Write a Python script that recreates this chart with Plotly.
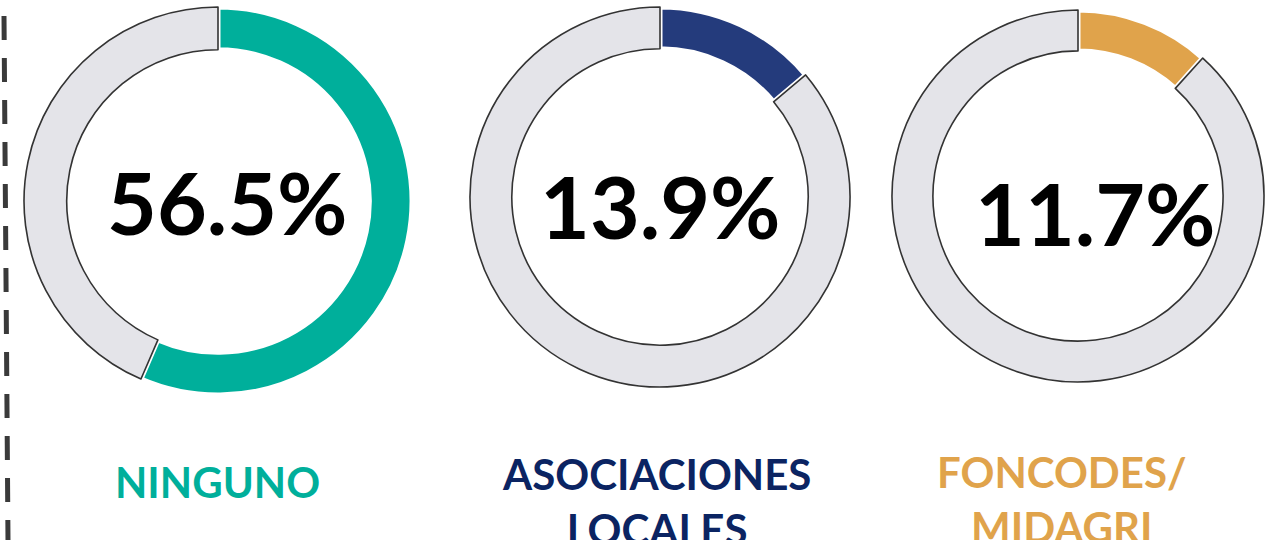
import plotly.graph_objects as go

categories = ["NINGUNO", "ASOCIACIONES<br>LOCALES", "FONCODES/<br>MIDAGRI"]
values = [56.5, 13.9, 11.7]
value_labels = ["56.5%", "13.9%", "11.7%"]
slice_colors = ["#00AF9B", "#243B7C", "#E0A34B"]
label_colors = ["#00AF9B", "#0B2462", "#E0A34B"]

W, H = 1265, 540
# donut centres / radii in pixels (layout only)
centers = [(218, 201), (660, 197), (1078, 196)]
radii = [194, 190, 186]
text_pos = [(227, 201), (660, 205), (1095, 212)]
label_pos = [(217, 480), (656, 472), (1062, 470)]

fig = go.Figure()
for i, v in enumerate(values):
    cx, cy = centers[i]
    r = radii[i]
    fig.add_trace(go.Pie(
        values=[v, 100 - v],
        labels=["a", "b"],
        sort=False,
        direction="clockwise",
        rotation=0,
        hole=0.78,
        textinfo="none",
        hoverinfo="skip",
        showlegend=False,
        marker=dict(colors=[slice_colors[i], "#E4E4E9"],
                    line=dict(color=["white", "#333333"], width=[5, 1.6])),
        domain=dict(x=[(cx - r) / W, (cx + r) / W],
                    y=[(H - cy - r) / H, (H - cy + r) / H]),
    ))
    tx, ty = text_pos[i]
    fig.add_annotation(x=tx / W, y=1 - ty / H, xref="paper", yref="paper",
                       text=value_labels[i], showarrow=False,
                       font=dict(family="Lato", size=86, color="#000000", weight="bold"),
                       xanchor="center", yanchor="middle")
    lx, ly = label_pos[i]
    fig.add_annotation(x=lx / W, y=1 - (ly - 25) / H, xref="paper", yref="paper",
                       text=categories[i], showarrow=False,
                       font=dict(family="Lato", size=42, color=label_colors[i], weight="bold"),
                       xanchor="center", yanchor="top", align="center")

fig.add_shape(type="line", xref="paper", yref="paper",
              x0=4 / W, x1=8 / W, y0=1 - 16 / H, y1=0,
              line=dict(color="#3A3A3A", width=5, dash="24px,18px"))

fig.update_layout(width=W, height=H, margin=dict(l=0, r=0, t=0, b=0),
                  paper_bgcolor="white", plot_bgcolor="white")
fig.write_html("out.html", config={"displayModeBar": False},
               post_script="document.body.style.margin='0';document.body.style.overflow='hidden';")
